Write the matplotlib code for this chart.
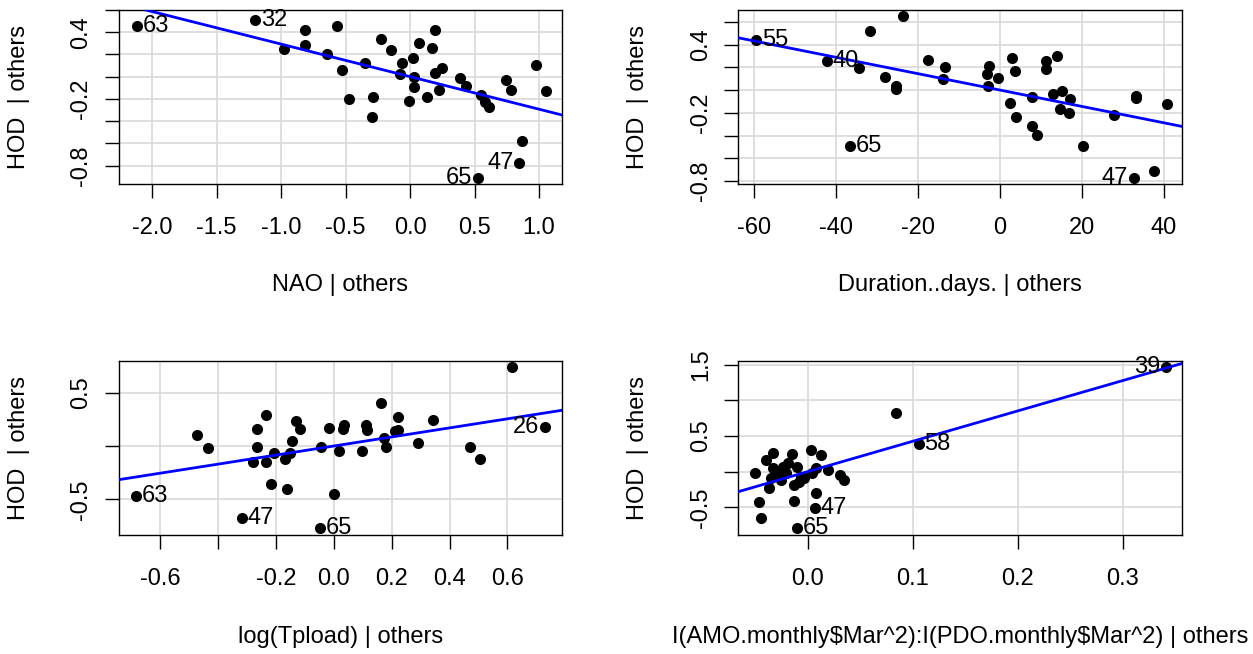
import numpy as np
import matplotlib.pyplot as plt

plt.rcParams['font.family'] = ['Liberation Sans', 'DejaVu Sans']

# added-variable plots: HOD | others against each predictor | others

# NAO | others
nao_x = [-2.12, -1.20, -0.817, -0.817, -0.98, -0.57, -0.648, -0.527, -0.473, -0.352,
         -0.287, -0.295, -0.229, -0.146, -0.080, -0.060, 0.020, 0.066, 0.029, 0.029,
         -0.011, 0.135, 0.172, 0.192, 0.192, 0.249, 0.221, 0.384, 0.436, 0.550,
         0.579, 0.613, 0.745, 0.785, 0.977, 1.054, 0.865, 0.845, 0.527]
nao_y = [0.452, 0.51, 0.423, 0.283, 0.245, 0.452, 0.204, 0.064, -0.204, 0.12,
         -0.187, -0.359, 0.335, 0.239, 0.02, 0.122, 0.166, 0.303, 0.0, -0.096,
         -0.216, -0.187, 0.262, 0.423, 0.035, 0.079, -0.117, -0.009, -0.082, -0.169,
         -0.227, -0.271, -0.029, -0.120, 0.108, -0.128, -0.583, -0.781, -0.913]
nao_labels = {'63': 0, '32': 1, '47': 37, '65': 38}

# Duration..days. | others
dur_x = [-59.5, -42.3, -34.4, -31.8, -23.7, -28.2, -25.5, -25.5, -36.7, -17.6,
         -13.4, -14.0, -3.3, -2.8, -3.0, -0.5, 2.9, 3.7, 2.4, 4.0,
         7.9, 7.8, 8.9, 11.1, 11.1, 13.8, 12.8, 15.2, 14.7, 17.0,
         16.8, 20.2, 27.7, 33.3, 33.3, 40.8, 32.6, 37.7]
dur_y = [0.442, 0.256, 0.195, 0.517, 0.648, 0.116, 0.035, 0.006, -0.488, 0.267,
         0.203, 0.093, 0.145, 0.209, 0.035, 0.105, 0.279, 0.169, -0.110, -0.238,
         -0.058, -0.314, -0.392, 0.253, 0.189, 0.299, -0.038, -0.006, -0.166, -0.078,
         -0.203, -0.488, -0.218, -0.049, -0.067, -0.119, -0.770, -0.712]
dur_labels = {'55': 0, '40': 1, '65': 8, '47': 36}

# log(Tpload) | others
tp_x = [-0.682, -0.471, -0.433, -0.316, -0.265, -0.265, -0.278, -0.233, -0.233, -0.208,
        -0.217, -0.169, -0.150, -0.162, -0.144, -0.131, -0.116, -0.045, -0.017, -0.047,
        0.0, 0.018, 0.032, 0.036, 0.096, 0.111, 0.115, 0.162, 0.172, 0.180,
        0.210, 0.223, 0.223, 0.292, 0.343, 0.470, 0.506, 0.617, 0.729]
tp_y = [-0.466, 0.103, -0.022, -0.678, 0.156, -0.013, -0.147, 0.291, -0.147, -0.063,
        -0.359, -0.125, -0.069, -0.406, 0.05, 0.234, 0.156, -0.013, 0.172, -0.766,
        -0.453, -0.047, 0.156, 0.197, -0.047, 0.197, 0.15, 0.4, 0.078, -0.013,
        0.144, 0.269, 0.15, 0.031, 0.244, -0.013, -0.125, 0.744, 0.175]
tp_labels = {'63': 0, '47': 3, '65': 19, '26': 38}

# I(AMO.monthly$Mar^2):I(PDO.monthly$Mar^2) | others
amo_x = [0.341, 0.084, 0.106, 0.007, -0.010, -0.050, -0.046, -0.044, -0.040, -0.037,
         -0.033, -0.033, -0.035, -0.027, -0.025, -0.023, -0.019, -0.015, -0.013, -0.013,
         -0.010, -0.008, -0.003, 0.003, 0.004, 0.008, 0.008, 0.013, 0.019, 0.031,
         0.035, -0.021, -0.006]
amo_y = [1.472, 0.827, 0.388, -0.514, -0.785, -0.023, -0.425, -0.654, 0.164, -0.234,
         0.257, 0.047, -0.093, 0.0, -0.117, 0.070, 0.117, 0.248, -0.187, -0.407,
         0.070, -0.140, -0.093, 0.304, -0.014, -0.304, 0.047, 0.234, 0.023, -0.047,
         -0.117, -0.023, -0.070]
amo_labels = {'39': 0, '58': 2, '47': 3, '65': 4}

# fitted slopes (lines go through the origin)
slopes = [-0.293, -0.00718, 0.425, 4.26]

# axes
nao_ticks = [-2.0, -1.5, -1.0, -0.5, 0.0, 0.5, 1.0]
dur_ticks = [-60, -40, -20, 0, 20, 40]
tp_ticks = [-0.6, -0.4, -0.2, 0.0, 0.2, 0.4, 0.6]
tp_ticklabels = ['-0.6', '', '-0.2', '0.0', '0.2', '0.4', '0.6']
amo_ticks = [0.0, 0.1, 0.2, 0.3]
hod_ticks = [-0.8, -0.6, -0.4, -0.2, 0.0, 0.2, 0.4, 0.6]
hod_ticklabels = ['-0.8', '', '', '-0.2', '', '', '0.4', '']
tp_yticks = [-0.5, 0.0, 0.5]
tp_yticklabels = ['-0.5', '', '0.5']
amo_yticks = [-0.5, 0.0, 0.5, 1.0, 1.5]
amo_yticklabels = ['-0.5', '', '0.5', '', '1.5']

FS = 17


def av_panel(ax, x, y, labels, slope, xlim, ylim, xticks, xticklabels,
             yticks, yticklabels, xlabel, label_side):
    ax.set_xlim(xlim)
    ax.set_ylim(ylim)
    ax.set_xticks(xticks)
    ax.set_xticklabels(xticklabels)
    ax.set_yticks(yticks)
    ax.set_yticklabels(yticklabels)
    ax.grid(True, color='#d9d9d9', lw=1.2)
    ax.set_axisbelow(True)
    ax.plot(x, y, 'o', color='black', ms=8, mec='none', zorder=3)
    ax.axline((0, 0), slope=slope, color='blue', lw=2, zorder=4)
    for name, i in labels.items():
        side = label_side[name]
        off = 4 if side == 'right' else -4
        ax.annotate(name, (x[i], y[i]), xytext=(off, 0), textcoords='offset points',
                    ha='left' if side == 'right' else 'right', va='center',
                    fontsize=FS, zorder=5)
    ax.tick_params(axis='both', direction='out', length=10, width=1, labelsize=FS)
    ax.tick_params(axis='x', pad=14)
    ax.tick_params(axis='y', pad=9, labelrotation=90)
    for lbl in ax.get_yticklabels():
        lbl.set_va('center')
    for sp in ax.spines.values():
        sp.set_linewidth(1.0)
    ax.set_xlabel(xlabel, fontsize=FS)
    ax.xaxis.set_label_coords(0.5, -0.52)
    ax.set_ylabel('HOD  | others', fontsize=FS)
    ax.yaxis.set_label_coords(-0.20, 0.5)


fig = plt.figure(figsize=(12.53, 6.54), dpi=100)
ax1 = fig.add_axes([0.0947, 0.7194, 0.3540, 0.2653])
ax2 = fig.add_axes([0.5892, 0.7194, 0.3544, 0.2653])
ax3 = fig.add_axes([0.0947, 0.1820, 0.3540, 0.2665])
ax4 = fig.add_axes([0.5892, 0.1820, 0.3544, 0.2665])

av_panel(ax1, nao_x, nao_y, nao_labels, slopes[0], (-2.26, 1.18), (-0.962, 0.56),
         nao_ticks, ['%.1f' % t for t in nao_ticks], hod_ticks, hod_ticklabels,
         'NAO | others', {'63': 'right', '32': 'right', '47': 'left', '65': 'left'})
av_panel(ax2, dur_x, dur_y, dur_labels, slopes[1], (-63.95, 44.5), (-0.82, 0.703),
         dur_ticks, [str(t) for t in dur_ticks], hod_ticks, hod_ticklabels,
         'Duration..days. | others', {'55': 'right', '40': 'right', '65': 'right', '47': 'left'})
av_panel(ax3, tp_x, tp_y, tp_labels, slopes[2], (-0.743, 0.789), (-0.834, 0.8),
         tp_ticks, tp_ticklabels, tp_yticks, tp_yticklabels,
         'log(Tpload) | others', {'63': 'right', '47': 'right', '65': 'right', '26': 'left'})
av_panel(ax4, amo_x, amo_y, amo_labels, slopes[3], (-0.066, 0.3565), (-0.888, 1.556),
         amo_ticks, ['%.1f' % t for t in amo_ticks], amo_yticks, amo_yticklabels,
         r'I(AMO.monthly\$Mar^2):I(PDO.monthly\$Mar^2) | others',
         {'39': 'left', '58': 'right', '47': 'right', '65': 'right'})

fig.savefig('out.png', dpi=100)
